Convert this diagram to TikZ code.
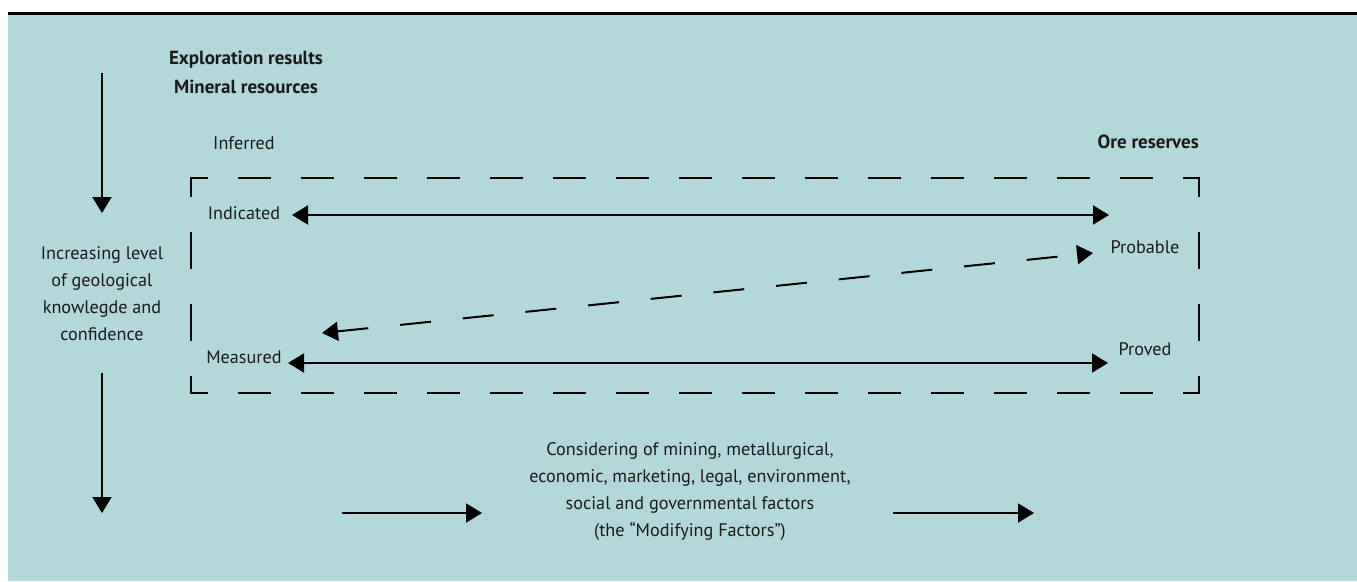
\documentclass[tikz,border=0pt]{standalone}
\usepackage{fontspec}
\setmainfont{PT Sans}
\usetikzlibrary{arrows.meta}
\definecolor{bgteal}{RGB}{178,216,217}
\definecolor{txt}{RGB}{26,26,26}
\tikzset{
  lbl/.style={font=\fontsize{18.2}{27}\selectfont, text=txt, inner sep=0pt, align=center},
  blbl/.style={lbl, font=\fontsize{19}{27}\selectfont\bfseries},
  bigarrow/.style={line width=2pt, -{Triangle[length=16pt,width=19pt]}},
  dblarrow/.style={line width=2pt, {Triangle[length=16pt,width=19pt]}-{Triangle[length=16pt,width=19pt]}},
  boxline/.style={line width=1.4pt, line cap=rect}
}
\begin{document}
\begin{tikzpicture}[x=1pt,y=-1pt]
\useasboundingbox (0,0) rectangle (1357,581);
\fill[bgteal] (8,13) rectangle (1357,581);
\draw[line width=3pt] (8,13) -- (1357,13);
% titles
\node[blbl] (expl) at (246,60) {Exploration results};
\node[blbl] (minr) at (246,87) {Mineral resources};
\node[lbl] (inf) at (244,143) {Inferred};
\node[blbl, anchor=east] (ore) at (1199,142) {Ore reserves};
% left vertical label and arrows
\node[lbl] (incr) at (102,294) {Increasing level\\of geological\\knowlegde and\\confidence};
\coordinate (va1) at (102,73);
\coordinate (va1e) at (102,213);
\coordinate (va2) at (102,373);
\coordinate (va2e) at (102,513);
\draw[bigarrow] (va1) -- (va1e);
\draw[bigarrow] (va2) -- (va2e);
% dashed box
\coordinate (tl) at (191,178);
\coordinate (tr) at (1199,178);
\coordinate (bl) at (191,393);
\coordinate (br) at (1199,393);
\draw[boxline, dash pattern=on 31pt off 32pt, dash phase=15pt] (tl) -- (tr);
\draw[boxline, dash pattern=on 31pt off 32pt, dash phase=15pt] (bl) -- (br);
\draw[boxline, dash pattern=on 35pt off 37pt, dash phase=17pt] (tl) -- (bl);
\draw[boxline, dash pattern=on 35pt off 37pt, dash phase=17pt] (tr) -- (br);
% category nodes
\node[lbl] (ind) at (244,213) {Indicated};
\node[lbl] (mea) at (244,357) {Measured};
\node[lbl] (prob) at (1145,247) {Probable};
\node[lbl] (prov) at (1145,349) {Proved};
\coordinate (indA) at (292,215);
\coordinate (indB) at (1109,215);
\coordinate (meaA) at (288,363);
\coordinate (meaB) at (1108,363);
\coordinate (dA) at (322,333);
\coordinate (dB) at (1093,253);
\draw[dblarrow] (indA) -- (indB);
\draw[dblarrow] (meaA) -- (meaB);
\draw[dblarrow, dash pattern=on 31pt off 32pt] (dA) -- (dB);
% modifying factors
\node[lbl] (mod) at (690,492) {Considering of mining, metallurgical,\\economic, marketing, legal, environment,\\social and governmental factors\\(the \textquotedblleft Modifying Factors\textquotedblright)};
\coordinate (ma1) at (342,513);
\coordinate (ma2) at (482,513);
\coordinate (mb1) at (893,513);
\coordinate (mb2) at (1034,513);
\draw[bigarrow] (ma1) -- (ma2);
\draw[bigarrow] (mb1) -- (mb2);
\end{tikzpicture}
\end{document}
